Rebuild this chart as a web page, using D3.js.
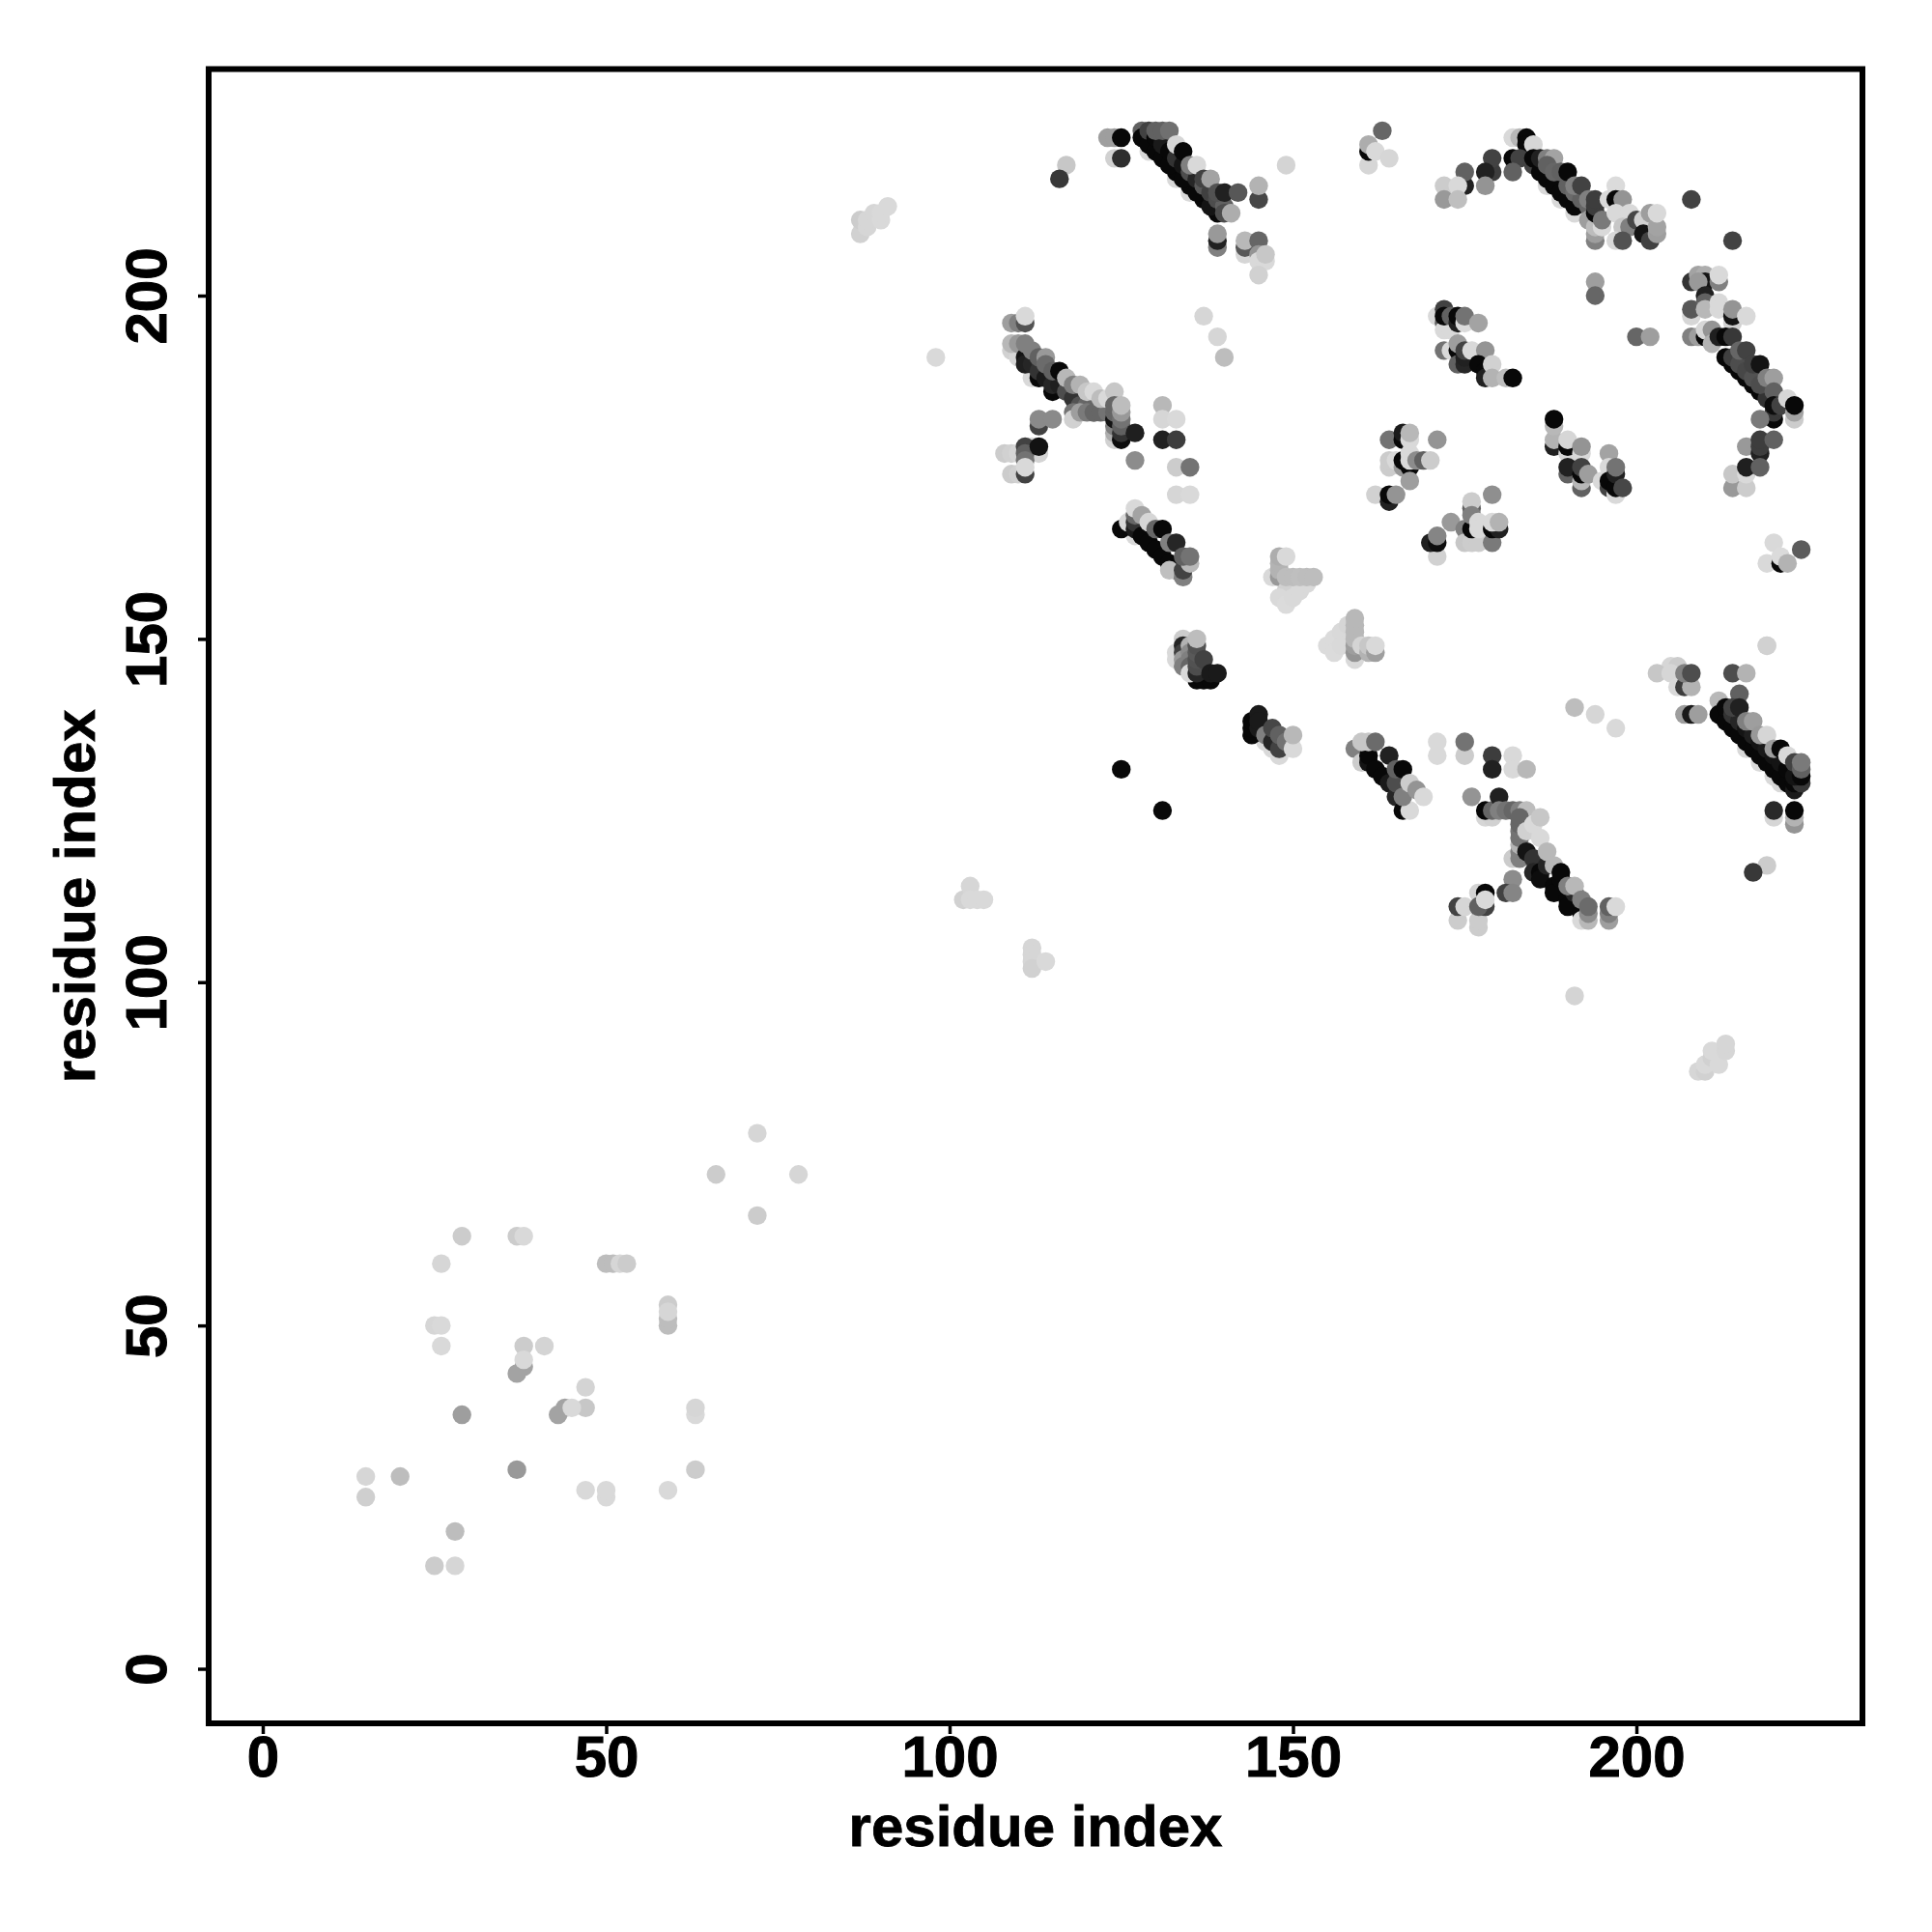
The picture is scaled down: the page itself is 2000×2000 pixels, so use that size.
<!DOCTYPE html>
<html><head><meta charset="utf-8">
<script src="https://cdn.jsdelivr.net/npm/d3@7/dist/d3.min.js"></script>
<style>html,body{margin:0;padding:0;background:#fff}svg{display:block}</style>
</head><body><svg id="c" width="2000" height="2000"></svg>
<script>
const xTicks=[0,50,100,150,200];
const yTicks=[0,50,100,150,200];
const xTitle="residue index", yTitle="residue index";
// each contact: [residue i, residue j, strength 0-100]
const lowerContacts=[[72,78,16],[66,72,20],[78,72,16],[72,66,20],[29,63,20],[37,63,20],[38,63,15],[26,59,16],[50,59,26],[51,59,26],[52,59,16],[53,59,20],[59,50,26],[59,51,26],[59,53,20],[59,52,16],[25,50,16],[26,50,15],[26,47,15],[38,44,36],[37,43,36],[38,47,20],[41,47,17],[38,45,15],[44,38,36],[43,37,36],[47,41,17],[47,38,22],[45,38,15],[29,37,38],[63,37,15],[63,38,16],[37,29,40],[63,29,20],[15,28,16],[20,28,26],[15,25,19],[47,26,15],[50,25,15],[50,26,15],[59,26,15],[28,20,26],[25,15,20],[28,15,16]];
const sparseContacts=[[87,209,18],[87,211,20],[88,210,16],[88,211,16],[89,212,16],[90,211,15],[90,212,15],[91,213,15],[98,191,15],[102,112,18],[103,114,16],[103,112,15],[104,112,15],[105,112,15],[112,105,16],[112,104,16],[112,103,16],[112,102,18],[114,103,15],[191,98,17],[209,87,16],[210,87,18],[210,88,15],[211,89,18],[211,90,15],[212,88,15],[213,90,16],[213,91,16],[125,131,97],[131,125,97],[137,197,16],[139,194,16],[140,191,26],[191,140,26],[194,139,16],[197,137,15],[149,219,17],[219,149,17],[208,214,74],[214,208,74],[194,202,38],[194,200,60],[200,194,60],[202,194,38],[219,117,20],[217,116,78]];
const bandTopA=[[129,221,15],[130,221,15],[133,217,15],[135,215,15],[128,224,62],[128,223,97],[129,222,97],[130,221,97],[131,220,97],[133,218,97],[135,216,97],[137,214,97],[139,212,97],[132,219,97],[134,217,97],[136,215,97],[138,213,92],[129,224,74],[130,223,97],[131,222,90],[132,221,97],[133,220,80],[134,219,92],[135,218,70],[136,217,85],[137,216,65],[138,215,75],[139,214,70],[140,213,62],[140,212,70],[130,224,62],[131,224,62],[132,224,56],[133,222,16],[134,221,97],[135,219,50],[136,219,15],[137,217,74],[138,217,36],[139,215,68],[140,215,87],[142,215,66],[141,212,32],[145,214,72],[145,216,30],[117,219,22],[116,217,78],[123,223,38],[124,223,38],[125,223,97],[124,220,18],[125,220,82],[139,207,50],[139,208,87],[139,209,40],[143,206,16],[143,207,66],[143,208,28],[145,208,60],[145,206,42],[145,205,15],[146,205,15],[146,206,22],[145,203,18]];
const clusterTopMid=[[161,219,16],[161,221,97],[161,222,32],[163,224,60],[162,221,15],[164,220,16]];
const bandC=[[109,196,38],[110,196,50],[111,196,68],[111,197,15],[109,192,18],[110,191,16],[112,188,15],[109,193,28],[110,193,40],[111,191,92],[111,190,88],[112,190,85],[113,188,97],[113,189,80],[114,188,90],[115,186,97],[115,187,85],[116,187,88],[117,186,70],[118,185,80],[119,184,68],[120,184,60],[121,183,60],[111,193,50],[112,192,50],[113,191,62],[114,191,40],[114,190,58],[115,189,62],[116,189,97],[117,188,28],[118,187,50],[119,187,30],[118,183,55],[118,182,18],[119,183,38],[120,183,52],[121,183,60],[122,183,60],[123,183,55],[120,186,22],[121,186,15],[122,185,26],[123,185,15],[124,186,22],[124,179,18],[124,180,32],[124,181,50],[124,182,92],[124,183,60],[124,184,60],[125,179,95],[125,180,80],[125,181,62],[125,182,55],[125,183,40],[125,184,26],[127,180,88],[127,176,45],[131,184,28],[131,182,16],[133,182,15],[131,179,87],[133,179,76],[133,175,20],[135,175,55],[133,171,16],[135,171,15]];
const clusterC2=[[113,181,74],[113,182,46],[115,182,46],[112,178,15],[113,177,17],[108,177,20],[109,177,18],[110,177,16],[111,178,74],[111,177,62],[111,176,55],[113,178,93],[109,174,20],[110,174,18],[111,174,74],[111,175,15]];
const bandD=[[127,165,15],[125,166,97],[126,167,15],[127,166,90],[127,167,80],[128,165,97],[129,164,97],[130,163,97],[131,162,97],[132,161,97],[133,160,92],[132,160,25],[134,159,50],[134,160,74],[135,161,28],[127,168,60],[127,169,15],[128,168,36],[129,167,16],[130,166,60],[131,166,97],[132,164,50],[133,164,85],[134,162,62],[135,162,55]];
const clusterE=[[147,159,15],[148,159,40],[148,160,30],[148,161,30],[148,162,32],[149,162,15],[149,157,18],[149,159,26],[148,156,15],[149,155,14],[150,156,15],[151,157,15],[152,158,15],[150,159,26],[151,159,25],[152,159,26],[153,159,26]];
const clusterF=[[155,149,14],[156,150,14],[157,151,15],[158,152,16],[156,148,14],[157,149,15],[159,147,15],[159,148,42],[159,149,38],[159,150,28],[159,151,28],[159,152,28],[159,153,28],[160,149,17],[161,148,30],[161,149,22],[162,148,38],[162,149,15]];
const clusterG=[[133,148,15],[133,147,15],[134,150,20],[134,149,85],[134,148,75],[134,147,40],[134,146,50],[135,149,30],[135,148,45],[135,147,50],[135,146,60],[136,144,97],[137,144,97],[138,144,97],[135,145,15],[136,145,85],[136,146,70],[136,147,68],[136,148,65],[136,149,68],[136,150,26],[137,147,74],[138,145,90],[139,145,90]];
const clusterH=[[148,133,15],[147,134,15],[146,135,15],[144,136,97],[144,137,97],[144,138,97],[145,137,90],[145,139,90],[145,138,90],[146,136,50],[147,135,85],[148,134,74],[147,137,72],[148,136,62],[149,135,55],[150,134,15],[150,136,28]];
const bandI=[[159,134,50],[160,132,20],[161,132,92],[161,133,97],[162,131,97],[163,130,97],[164,129,90],[165,127,85],[165,129,70],[166,125,97],[167,125,15],[166,127,50],[160,135,22],[161,135,22],[162,135,58],[164,133,87],[165,131,62],[166,131,97],[167,129,20],[168,128,42],[169,127,15]];
const clusterJ=[[171,135,15],[171,133,15],[175,133,20],[175,135,55],[179,133,76],[179,131,87],[182,133,15],[182,131,15],[184,131,28],[176,127,42],[178,124,16],[179,124,18],[178,125,97],[179,125,60],[180,127,87],[180,125,50],[181,125,55],[182,125,60],[183,125,50],[184,125,26],[182,118,20],[183,118,50],[183,119,50],[183,120,30],[183,121,55],[183,122,55],[183,123,60],[183,124,60],[184,122,18],[184,119,92],[185,118,80],[185,116,85],[186,116,97],[186,115,95],[187,117,85],[188,114,97],[188,113,97],[189,115,97],[190,112,97],[190,111,97],[191,113,85],[192,110,97],[192,109,15],[185,123,15],[186,124,22],[186,121,15],[187,119,28],[188,117,28],[189,116,97],[190,114,50],[191,114,28],[192,112,50],[193,109,28],[193,110,45],[193,111,58],[196,109,38],[196,110,50],[196,111,62],[197,111,15]];
const clusterJ2=[[182,115,45],[181,113,74],[182,113,48],[177,113,17],[178,113,97],[174,109,20],[177,108,20],[177,109,20],[174,111,74],[175,111,16],[178,111,74],[177,111,62],[178,112,15]];
const bandK=[[205,146,16],[206,146,20],[203,145,22],[205,145,16],[206,143,15],[207,143,76],[208,143,30],[207,145,50],[208,145,70],[214,145,70],[216,145,30],[207,139,38],[208,139,90],[209,139,38],[219,149,18],[212,141,28],[216,134,15],[218,132,15],[220,130,15],[221,129,15],[212,139,97],[213,138,97],[214,137,97],[215,136,97],[216,135,97],[217,134,97],[218,133,97],[219,132,97],[220,131,97],[221,130,97],[222,129,97],[223,128,90],[213,140,97],[214,139,80],[215,138,85],[216,137,92],[217,136,88],[218,135,92],[219,134,90],[220,133,92],[221,132,92],[222,131,97],[223,129,97],[224,129,78],[215,142,62],[214,140,74],[215,140,87],[216,138,50],[217,138,38],[218,136,40],[219,136,16],[220,134,38],[221,134,97],[222,133,15],[223,130,92],[223,132,74],[224,130,97],[224,131,62],[224,132,52],[220,124,16],[220,125,84],[223,123,42],[223,124,30],[223,125,97]];
const bandRightTop=[[182,223,15],[183,223,28],[184,223,97],[184,222,97],[185,222,16],[182,220,97],[183,220,74],[182,218,62],[179,218,76],[179,220,74],[178,218,87],[178,216,42],[175,216,87],[175,218,62],[172,216,20],[174,216,15],[172,214,40],[174,214,25],[187,216,15],[189,214,15],[191,212,15],[185,219,74],[185,220,97],[186,218,97],[187,217,97],[188,216,97],[189,215,97],[190,214,97],[191,213,97],[186,220,87],[187,220,50],[188,220,36],[187,219,62],[188,218,60],[189,218,62],[190,216,62],[191,215,58],[192,214,62],[193,213,60],[190,218,97],[191,216,50],[192,216,74],[193,214,50],[193,211,38],[194,208,50],[194,209,38],[194,210,26],[194,212,97],[194,213,76],[194,214,76],[195,210,15],[195,211,52],[197,216,14],[196,214,15],[197,214,97],[198,214,42],[197,212,15],[199,212,15],[198,210,22],[199,210,50],[197,208,15],[198,208,68],[200,211,72],[201,211,18],[201,209,92],[202,208,74],[202,212,38],[203,209,38],[203,210,36],[203,212,15]];
const bandRightDiag=[[208,202,80],[209,203,36],[210,203,32],[210,202,92],[209,202,40],[210,200,87],[212,202,50],[212,203,15],[208,197,16],[208,198,66],[210,199,62],[210,198,28],[212,199,15],[212,198,15],[214,196,18],[214,197,92],[214,198,42],[216,197,15],[208,194,50],[209,194,38],[210,194,97],[210,195,16],[211,195,42],[211,193,30],[213,191,97],[214,190,97],[215,189,97],[216,188,97],[217,187,97],[218,186,97],[219,185,80],[214,191,75],[215,190,70],[216,189,72],[217,188,68],[218,187,70],[212,194,88],[213,194,97],[214,194,78],[215,192,60],[216,192,74],[217,190,74],[218,190,92],[219,188,50],[220,188,38],[220,186,62],[220,182,97],[220,183,78],[220,184,95],[221,184,74],[222,185,16],[223,182,20],[223,183,36],[223,184,97],[218,182,52],[216,178,40],[218,177,87],[218,178,76],[218,179,76],[220,179,62],[214,172,40],[214,174,22],[216,172,20],[216,174,15],[216,175,88],[218,175,62]];
const clusterN=[[171,162,18],[170,164,87],[171,164,95],[171,165,48],[173,167,40],[175,166,50],[175,164,22],[176,164,20],[177,164,20],[176,166,97],[176,169,62],[176,170,20],[176,168,50],[177,167,15],[177,166,15],[179,164,52],[179,166,97],[180,166,87],[179,167,15],[180,167,30],[179,171,44]];
const clusterL=[[164,175,20],[164,176,20],[164,179,55],[165,176,15],[166,175,40],[166,179,97],[166,180,90],[166,176,97],[167,177,15],[167,179,15],[167,175,97],[167,176,15],[167,180,28],[168,176,45],[169,176,62],[170,176,20],[171,179,42],[167,173,38],[162,171,18],[164,170,87],[164,171,97],[165,171,42]];
const clusterM=[[188,178,87],[188,179,30],[188,181,28],[188,182,97],[190,177,16],[190,178,97],[190,179,16],[192,177,15],[192,178,42],[190,174,62],[190,175,87],[192,172,62],[192,173,28],[192,174,97],[192,175,74],[193,174,38],[196,177,36],[195,173,15],[196,175,15],[196,172,74],[196,173,97],[197,171,15],[197,172,97],[197,174,87],[197,175,55],[198,172,72]];
const clusterO=[[171,197,15],[172,198,74],[172,196,62],[172,195,15],[173,195,15],[172,197,97],[173,197,62],[174,196,87],[174,197,97],[175,196,14],[175,197,55],[177,196,36],[172,192,55],[173,192,15],[174,192,97],[174,193,38],[174,190,62],[175,190,85],[175,191,87],[175,192,74],[176,192,15],[178,192,42],[177,190,97],[178,189,97],[178,188,87],[179,190,18],[179,188,30],[181,188,26],[182,188,97]];
const clusterP=[[219,161,15],[220,164,15],[221,161,97],[221,162,14],[222,161,30],[224,163,64]];

const contacts=[].concat(lowerContacts,sparseContacts,bandTopA,clusterTopMid,bandC,clusterC2,bandD,clusterE,clusterF,clusterG,clusterH,bandI,clusterJ,clusterJ2,bandK,bandRightTop,bandRightDiag,clusterN,clusterL,clusterM,clusterO,clusterP);

const FONT='"Liberation Sans",Arial,sans-serif';
const svg=d3.select("#c");
const x=d3.scaleLinear().domain([0,200]).range([272,1694]);
const y=d3.scaleLinear().domain([0,200]).range([1727.5,306]);
const shade=d3.scaleLinear().domain([0,100]).range(["#ffffff","#000000"]);
const L=216,R=1928,T=71.5,B=1784;

svg.append("g").selectAll("circle").data(contacts).join("circle")
  .attr("cx",d=>x(d[0])).attr("cy",d=>y(d[1])).attr("r",9.7)
  .attr("fill",d=>shade(d[2]));

svg.append("rect").attr("x",L).attr("y",T).attr("width",R-L).attr("height",B-T)
  .attr("fill","none").attr("stroke","#000").attr("stroke-width",6);

const ax=svg.append("g").attr("transform",`translate(0,${B})`)
  .call(d3.axisBottom(x).tickValues(xTicks).tickSize(11).tickPadding(0).tickFormat(d3.format("d")));
const ay=svg.append("g").attr("transform",`translate(${L},0)`)
  .call(d3.axisLeft(y).tickValues(yTicks).tickSize(11).tickPadding(0).tickFormat(d3.format("d")));
[ax,ay].forEach(a=>{a.select(".domain").remove();a.selectAll(".tick line").attr("stroke","#000").attr("stroke-width",3.5);
  a.selectAll("text").attr("font-family",FONT).attr("font-weight","bold").attr("font-size",60).attr("fill","#000")
   .attr("stroke","#000").attr("stroke-width",1);});
ax.selectAll("text").attr("y",55).attr("dy",0);
ay.selectAll("text").attr("x",0).attr("dy",0).attr("text-anchor","middle")
  .attr("transform",`translate(${172-L},0) rotate(-90)`);

svg.append("text").attr("x",(L+R)/2).attr("y",1911).attr("text-anchor","middle")
  .attr("font-family",FONT).attr("font-weight","bold").attr("font-size",60).attr("stroke","#000").attr("stroke-width",0.8).text(xTitle);
svg.append("text").attr("transform",`translate(98,${(T+B)/2}) rotate(-90)`).attr("text-anchor","middle")
  .attr("font-family",FONT).attr("font-weight","bold").attr("font-size",60).attr("stroke","#000").attr("stroke-width",0.8).text(yTitle);
</script></body></html>
